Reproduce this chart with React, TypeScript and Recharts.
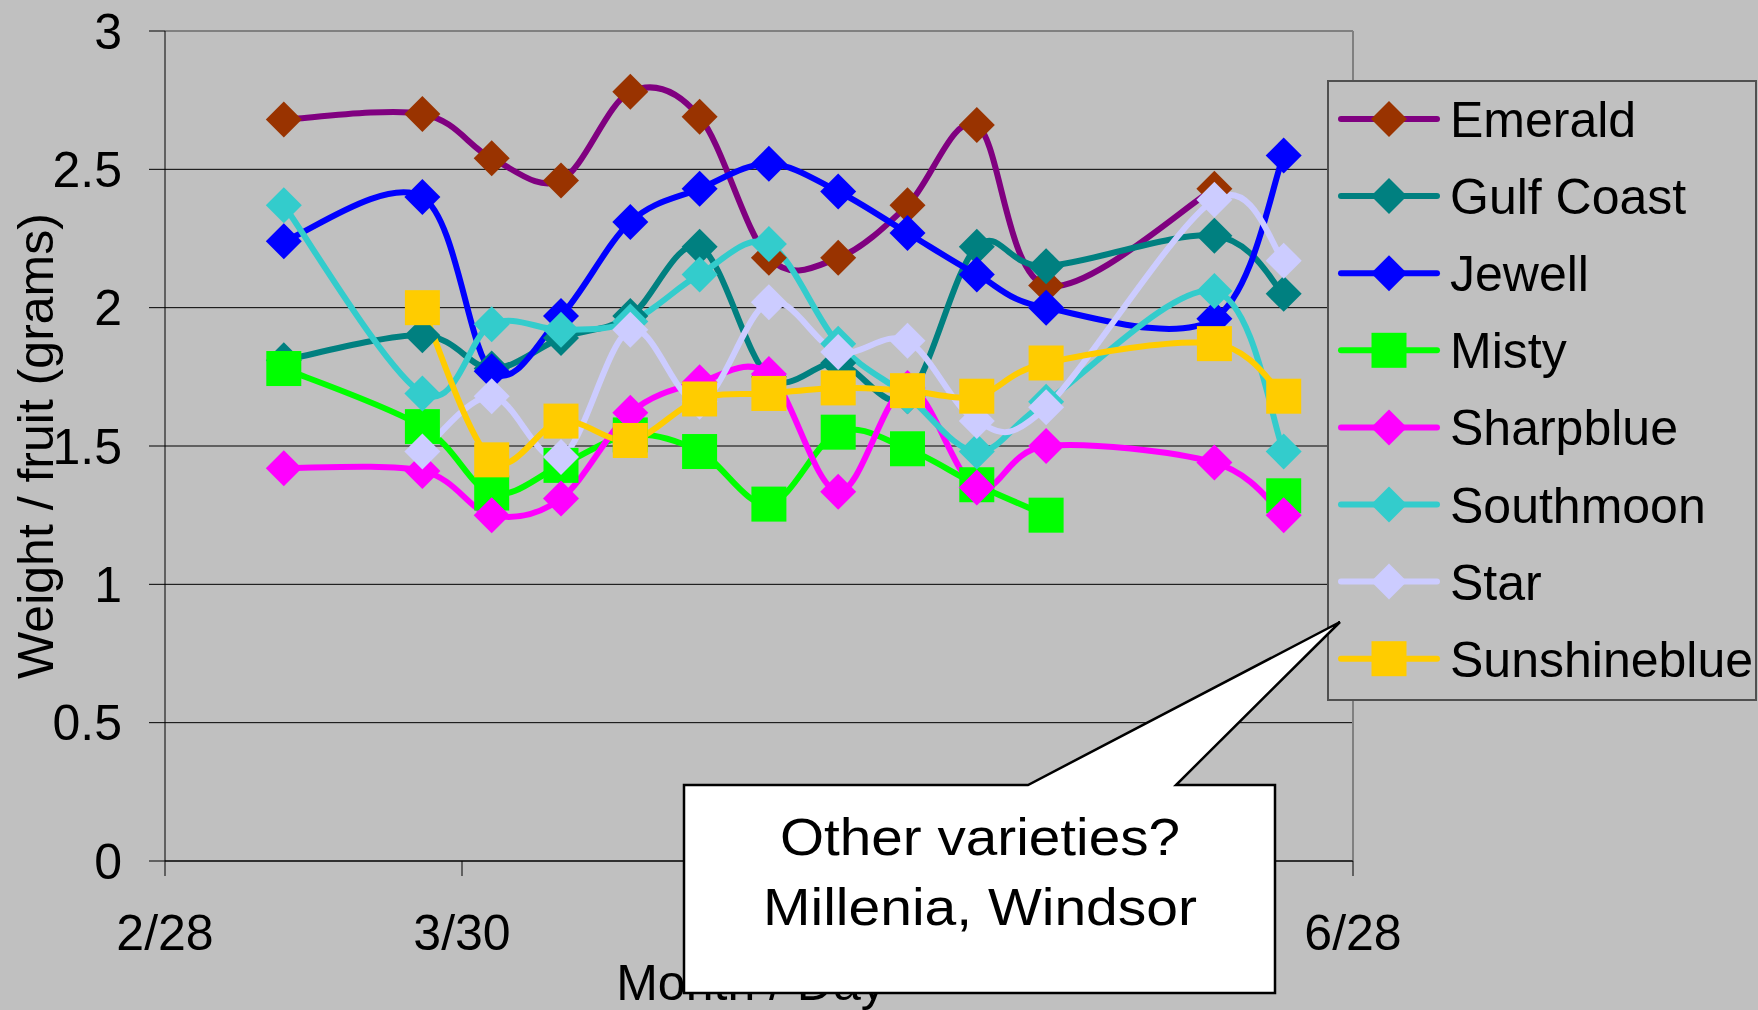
import { LineChart, Line, XAxis, YAxis, CartesianGrid, Legend, ReferenceLine } from 'recharts';

const FONT = '"Liberation Sans", Arial, sans-serif';
const BG = '#C0C0C0';

// days counted from 2/28
const days = [12, 26, 33, 40, 47, 54, 61, 68, 75, 82, 89, 106, 113];
const xTicks = [0, 30, 60, 90, 120];
const xTickLabels = ['2/28', '3/30', '4/29', '5/29', '6/28'];
const yTicks = [0, 0.5, 1, 1.5, 2, 2.5, 3];

const emerald = [2.68, 2.7, 2.54, 2.46, 2.78, 2.69, 2.18, 2.18, 2.37, 2.66, 2.08, 2.43, null];
const gulfCoast = [1.81, 1.9, 1.78, 1.89, 1.97, 2.22, 1.75, 1.8, 1.68, 2.22, 2.15, 2.26, 2.05];
const jewell = [2.24, 2.4, 1.77, 1.97, 2.31, 2.43, 2.52, 2.42, 2.27, 2.12, 2.0, 1.96, 2.55];
const misty = [1.78, 1.57, 1.33, 1.43, 1.54, 1.48, 1.29, 1.55, 1.49, 1.36, 1.25, null, 1.32];
const sharpblue = [1.42, 1.41, 1.25, 1.31, 1.62, 1.73, 1.76, 1.335, 1.71, 1.35, 1.5, 1.44, 1.25];
const southmoon = [2.37, 1.69, 1.94, 1.92, 1.95, 2.12, 2.23, 1.87, 1.68, 1.48, 1.66, 2.06, 1.48];
const star = [null, 1.48, 1.68, 1.46, 1.92, 1.66, 2.02, 1.84, 1.88, 1.59, 1.64, 2.39, 2.17];
const sunshineblue = [null, 2.0, 1.45, 1.59, 1.52, 1.67, 1.69, 1.71, 1.7, 1.68, 1.8, 1.87, 1.68];

const series = [
  { name: 'Emerald', values: emerald, line: '#800080', marker: '#993300', shape: 'diamond' },
  { name: 'Gulf Coast', values: gulfCoast, line: '#008080', marker: '#008080', shape: 'diamond' },
  { name: 'Jewell', values: jewell, line: '#0000FF', marker: '#0000FF', shape: 'diamond' },
  { name: 'Misty', values: misty, line: '#00FF00', marker: '#00FF00', shape: 'square' },
  { name: 'Sharpblue', values: sharpblue, line: '#FF00FF', marker: '#FF00FF', shape: 'diamond' },
  { name: 'Southmoon', values: southmoon, line: '#33CCCC', marker: '#33CCCC', shape: 'diamond' },
  { name: 'Star', values: star, line: '#CCCCFF', marker: '#CCCCFF', shape: 'diamond' },
  { name: 'Sunshineblue', values: sunshineblue, line: '#FFCC00', marker: '#FFCC00', shape: 'square' },
];

// Excel-style smoothed line (Catmull-Rom through the points)
function excelSmooth(context: any) {
  let pts: number[][] = [];
  return {
    areaStart() {},
    areaEnd() {},
    lineStart() {
      pts = [];
    },
    point(x: number, y: number) {
      pts.push([+x, +y]);
    },
    lineEnd() {
      const n = pts.length;
      if (!n) return;
      context.moveTo(pts[0][0], pts[0][1]);
      for (let i = 0; i < n - 1; i++) {
        const p0 = pts[Math.max(0, i - 1)];
        const p1 = pts[i];
        const p2 = pts[i + 1];
        const p3 = pts[Math.min(n - 1, i + 2)];
        context.bezierCurveTo(
          p1[0] + (p2[0] - p0[0]) / 6,
          p1[1] + (p2[1] - p0[1]) / 6,
          p2[0] - (p3[0] - p1[0]) / 6,
          p2[1] - (p3[1] - p1[1]) / 6,
          p2[0],
          p2[1]
        );
      }
    },
  };
}

function Marker({ x, y, shape, color, size = 18 }: any) {
  if (shape === 'square') {
    const h = size - 0.5;
    return <rect x={x - h} y={y - h} width={h * 2} height={h * 2} fill={color} />;
  }
  return (
    <polygon
      points={`${x},${y - size} ${x + size},${y} ${x},${y + size} ${x - size},${y}`}
      fill={color}
    />
  );
}

function LegendBox() {
  return (
    <div
      style={{
        width: 430,
        height: 621,
        boxSizing: 'border-box',
        border: '2px solid #505050',
        background: BG,
      }}
    >
      <svg width={426} height={617} style={{ display: 'block' }}>
        {series.map((s, i) => {
          const y = 37 + i * 77.1;
          return (
            <g key={s.name}>
              <line x1={12} x2={108} y1={y} y2={y} stroke={s.line} strokeWidth={6} strokeLinecap="round" />
              <Marker x={60} y={y} shape={s.shape} color={s.marker} size={18} />
              <text x={121} y={y + 18} fontSize={50} fontFamily={FONT} fill="#000">
                {s.name}
              </text>
            </g>
          );
        })}
      </svg>
    </div>
  );
}

function Callout() {
  return (
    <svg
      width={1758}
      height={1010}
      style={{ position: 'absolute', left: 0, top: 0, pointerEvents: 'none' }}
    >
      <path
        d="M684,785 L1028,785 L1340,622 L1176,785 L1275,785 L1275,993 L684,993 Z"
        fill="#FFFFFF"
        stroke="#000"
        strokeWidth={2.5}
        strokeLinejoin="miter"
      />
      <text x={980} y={855} textAnchor="middle" fontSize={52} fontFamily={FONT} textLength={400} lengthAdjust="spacingAndGlyphs">
        Other varieties?
      </text>
      <text x={980} y={925} textAnchor="middle" fontSize={52} fontFamily={FONT} textLength={434} lengthAdjust="spacingAndGlyphs">
        Millenia, Windsor
      </text>
    </svg>
  );
}

export default function App() {
  const tickStyle = { fontSize: 50, fill: '#000', fontFamily: FONT };
  return (
    <div style={{ position: 'absolute', left: 0, top: 0, width: 1758, height: 1010, background: BG, overflow: 'hidden' }}>
      <LineChart width={1758} height={1010} margin={{ top: 31, right: 405, bottom: 0, left: 0 }}>
        <CartesianGrid vertical={false} stroke="#000" strokeWidth={1} />
        <XAxis
          type="number"
          dataKey="day"
          domain={[0, 120]}
          ticks={xTicks}
          tickFormatter={(v: number) => xTickLabels[xTicks.indexOf(v)]}
          height={149}
          stroke="#000"
          tick={tickStyle}
          tickSize={15}
          tickMargin={38}
          allowDataOverflow
          label={{
            value: 'Month / Day',
            position: 'insideBottom',
            offset: 10,
            dx: -8,
            style: { fontSize: 50, fill: '#000', fontFamily: FONT },
          }}
        />
        <YAxis
          type="number"
          domain={[0, 3]}
          ticks={yTicks}
          width={165}
          stroke="#000"
          tick={tickStyle}
          tickSize={16}
          tickMargin={27}
          label={{
            value: 'Weight / fruit (grams)',
            angle: -90,
            position: 'insideLeft',
            offset: 35,
            style: { fontSize: 50, fill: '#000', fontFamily: FONT, textAnchor: 'middle' },
          }}
        />
        <ReferenceLine y={3} stroke="#808080" strokeWidth={2} />
        <ReferenceLine x={120} stroke="#808080" strokeWidth={2} />
        {series.map((s) => (
          <Line
            key={s.name}
            name={s.name}
            data={days.map((d, i) => ({ day: d, value: s.values[i] }))}
            dataKey="value"
            type={excelSmooth as any}
            stroke={s.line}
            strokeWidth={6}
            strokeLinejoin="round"
            isAnimationActive={false}
            dot={(p: any) =>
              p.cy == null || p.value == null ? (
                <g key={`${s.name}-${p.index}`} />
              ) : (
                <g key={`${s.name}-${p.index}`}>
                  <Marker x={p.cx} y={p.cy} shape={s.shape} color={s.marker} />
                </g>
              )
            }
            activeDot={false}
          />
        ))}
        <Legend
          layout="vertical"
          align="center"
          verticalAlign="middle"
          wrapperStyle={{ left: 1327, top: 80, width: 430, height: 621 }}
          content={() => <LegendBox />}
        />
      </LineChart>
      <Callout />
    </div>
  );
}
